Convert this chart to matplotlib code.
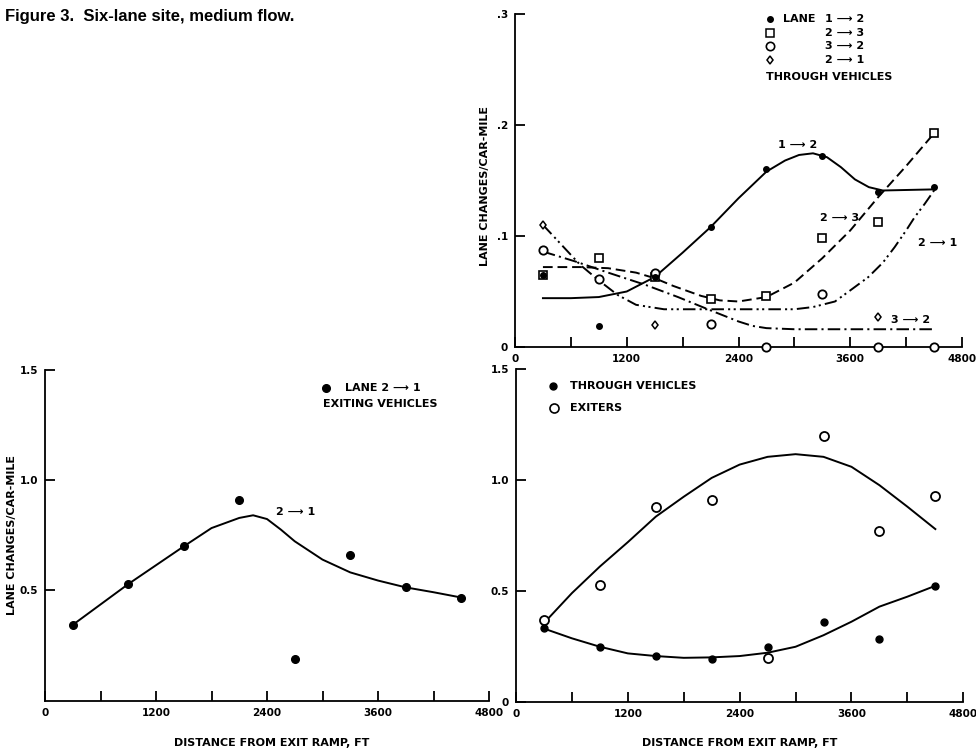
import numpy as np
import matplotlib
matplotlib.use('Agg')
import matplotlib.pyplot as plt

plt.rcParams['font.family'] = ['Liberation Sans Narrow', 'DejaVu Sans']
plt.rcParams['font.weight'] = 'bold'
plt.rcParams['lines.scale_dashes'] = False

# ---- data ----
dist = [300, 900, 1500, 2100, 2700, 3300, 3900, 4500]

# top panel, through vehicles (lane changes / car-mile)
lane12 = [0.065, 0.019, 0.063, 0.108, 0.160, 0.172, 0.140, 0.144]
lane23 = [0.065, 0.080, 0.063, 0.043, 0.046, 0.098, 0.113, 0.193]
lane32_x = [300, 900, 1500, 2100, 2700, 3300, 3900, 4500]
lane32 = [0.087, 0.061, 0.067, 0.021, 0.0, 0.048, 0.0, 0.0]
lane21_x = [300, 1500, 3900]
lane21 = [0.110, 0.020, 0.027]

# hand-drawn curves (top panel)
c12_x = [300, 600, 900, 1200, 1500, 1800, 2100, 2400, 2700, 2900, 3050, 3200, 3350, 3500, 3650, 3800, 3950, 4500]
c12_y = [0.044, 0.044, 0.045, 0.050, 0.063, 0.085, 0.108, 0.134, 0.158, 0.168, 0.173, 0.1745, 0.171, 0.162, 0.151, 0.144, 0.141, 0.142]
c23_x = [300, 700, 1000, 1300, 1500, 1700, 2000, 2200, 2400, 2700, 3000, 3300, 3600, 3900, 4200, 4500]
c23_y = [0.072, 0.072, 0.071, 0.067, 0.062, 0.055, 0.046, 0.042, 0.041, 0.045, 0.058, 0.080, 0.105, 0.135, 0.163, 0.1925]
c32_x = [300, 650, 1000, 1400, 1750, 2100, 2400, 2550, 2700, 3000, 4500]
c32_y = [0.086, 0.077, 0.067, 0.056, 0.045, 0.033, 0.023, 0.019, 0.017, 0.016, 0.016]
c21_x = [300, 500, 700, 900, 1100, 1300, 1600, 2000, 2600, 3000, 3200, 3436, 3600, 3794, 3950, 4077, 4200, 4292, 4400, 4500]
c21_y = [0.110, 0.092, 0.074, 0.060, 0.047, 0.038, 0.034, 0.034, 0.034, 0.034, 0.036, 0.041, 0.051, 0.063, 0.076, 0.090, 0.105, 0.117, 0.129, 0.141]

# bottom-left panel, exiting vehicles lane 2 -> 1
exit21 = [0.344, 0.529, 0.700, 0.912, 0.189, 0.661, 0.514, 0.468]
ce21_x = [300, 900, 1500, 1800, 2100, 2250, 2400, 2550, 2700, 3000, 3300, 3600, 3900, 4200, 4500]
ce21_y = [0.344, 0.529, 0.700, 0.783, 0.829, 0.841, 0.824, 0.776, 0.723, 0.640, 0.582, 0.545, 0.514, 0.492, 0.468]

# bottom-right panel
through = [0.334, 0.248, 0.206, 0.191, 0.245, 0.358, 0.281, 0.523]
exiters = [0.368, 0.526, 0.880, 0.910, 0.198, 1.198, 0.771, 0.928]
cth_x = [300, 600, 900, 1200, 1500, 1800, 2100, 2400, 2700, 3000, 3300, 3600, 3900, 4200, 4500]
cth_y = [0.330, 0.286, 0.248, 0.218, 0.206, 0.198, 0.200, 0.206, 0.221, 0.248, 0.300, 0.361, 0.429, 0.474, 0.523]
cex_x = [300, 600, 900, 1200, 1500, 1800, 2100, 2400, 2700, 3000, 3300, 3600, 3900, 4200, 4500]
cex_y = [0.355, 0.490, 0.610, 0.720, 0.835, 0.925, 1.010, 1.070, 1.105, 1.117, 1.105, 1.060, 0.977, 0.880, 0.779]

xticks = [0, 1200, 2400, 3600, 4800]
xlabels = ['0', '1200', '2400', '3600', '4800']
YLAB = 'LANE CHANGES/CAR-MILE'
XLAB = 'DISTANCE FROM EXIT RAMP, FT'
ARROW = ' \u27f6 '

fig = plt.figure(figsize=(9.76, 7.52), dpi=100)
fig.text(0.005, 0.988, 'Figure 3.  Six-lane site, medium flow.', family=['Liberation Sans', 'DejaVu Sans'],
         fontsize=12, fontweight='bold', va='top', ha='left')


def style(ax, ymax, yticks, ylabels):
    ax.set_xlim(0, 4800)
    ax.set_ylim(0, ymax)
    for s in ['top', 'right']:
        ax.spines[s].set_visible(False)
    for s in ['left', 'bottom']:
        ax.spines[s].set_linewidth(1.3)
    ax.set_xticks(xticks)
    ax.set_xticklabels(xlabels)
    ax.set_xticks(np.arange(600, 4800, 1200), minor=True)
    ax.set_yticks(yticks)
    ax.set_yticklabels(ylabels)
    ax.tick_params(axis='both', which='both', direction='in', length=7, width=1.3, labelsize=7.5, pad=5)
    ax.tick_params(axis='y', which='minor', length=0)


lw = 1.4
# ---- top panel ----
ax1 = fig.add_axes([515 / 976, 1 - 347 / 752, 447 / 976, 333 / 752])
style(ax1, 0.3, [0, 0.1, 0.2, 0.3], ['0', '.1', '.2', '.3'])
ax1.plot(c12_x, c12_y, color='k', lw=lw)
ax1.plot(c23_x, c23_y, color='k', lw=lw, dashes=(7, 3.5))
ax1.plot(c32_x, c32_y, color='k', lw=lw, dashes=(9, 3, 1.5, 3))
ax1.plot(c21_x, c21_y, color='k', lw=lw, dashes=(9, 3, 1.5, 2.5, 1.5, 3))
ax1.plot(dist, lane23, ls='none', marker='s', ms=5.5, mfc='white', mec='k', mew=1.2, clip_on=False, zorder=3)
ax1.plot(lane32_x, lane32, ls='none', marker='o', ms=6, mfc='white', mec='k', mew=1.3, clip_on=False, zorder=3)
ax1.plot(lane21_x, lane21, ls='none', marker='d', ms=4.5, mfc='white', mec='k', mew=1.1, clip_on=False, zorder=3)
ax1.plot(dist, lane12, ls='none', marker='o', ms=4, color='k', clip_on=False, zorder=4)
fig.text(485 / 976, 1 - 186 / 752, YLAB, rotation=90, fontsize=8, ha='center', va='center')

lx, tx = 2740, 3330
rows = [0.2952, 0.2832, 0.2712, 0.2585]
ax1.plot([lx], [rows[0]], 'o', color='k', ms=4, clip_on=False)
ax1.plot([lx], [rows[1]], 's', mfc='white', mec='k', ms=5.5, mew=1.1, clip_on=False)
ax1.plot([lx], [rows[2]], 'o', mfc='white', mec='k', ms=6, mew=1.2, clip_on=False)
ax1.plot([lx], [rows[3]], 'd', mfc='white', mec='k', ms=4.5, mew=1.1, clip_on=False)
ax1.text(2880, rows[0], 'LANE', fontsize=8, va='center')
for r, lab in zip(rows, ['1' + ARROW + '2', '2' + ARROW + '3', '3' + ARROW + '2', '2' + ARROW + '1']):
    ax1.text(tx, r, lab, fontsize=8, va='center')
ax1.text(2700, 0.2435, 'THROUGH VEHICLES', fontsize=8, va='center')
ax1.text(2820, 0.182, '1' + ARROW + '2', fontsize=8, va='center')
ax1.text(3280, 0.116, '2' + ARROW + '3', fontsize=8, va='center')
ax1.text(4330, 0.094, '2' + ARROW + '1', fontsize=8, va='center')
ax1.text(4040, 0.024, '3' + ARROW + '2', fontsize=8, va='center')

# ---- bottom-left panel ----
ax2 = fig.add_axes([45 / 976, 1 - 700.7 / 752, 444 / 976, 330.7 / 752])
style(ax2, 1.5, [0.5, 1.0, 1.5], ['0.5', '1.0', '1.5'])
ax2.plot(ce21_x, ce21_y, color='k', lw=lw)
ax2.plot(dist, exit21, ls='none', marker='o', ms=5.5, color='k', zorder=3)
fig.text(12 / 976, 1 - 535 / 752, YLAB, rotation=90, fontsize=8, ha='center', va='center')
fig.text(272 / 976, 1 - 743 / 752, XLAB, fontsize=8, ha='center', va='center')
ax2.plot([3040], [1.42], 'o', color='k', ms=5.5)
ax2.text(3240, 1.42, 'LANE 2' + ARROW + '1', fontsize=8, va='center')
ax2.text(3010, 1.345, 'EXITING VEHICLES', fontsize=8, va='center')
ax2.text(2500, 0.855, '2' + ARROW + '1', fontsize=8, va='center')

# ---- bottom-right panel ----
ax3 = fig.add_axes([516 / 976, 1 - 701.7 / 752, 447.3 / 976, 332.4 / 752])
style(ax3, 1.5, [0, 0.5, 1.0, 1.5], ['0', '0.5', '1.0', '1.5'])
ax3.plot(cex_x, cex_y, color='k', lw=lw)
ax3.plot(cth_x, cth_y, color='k', lw=lw)
ax3.plot(dist, exiters, ls='none', marker='o', ms=6.5, mfc='white', mec='k', mew=1.3, zorder=3)
ax3.plot(dist, through, ls='none', marker='o', ms=5, color='k', zorder=4)
fig.text(740 / 976, 1 - 743 / 752, XLAB, fontsize=8, ha='center', va='center')
ax3.plot([400], [1.425], 'o', color='k', ms=5)
ax3.plot([410], [1.325], 'o', mfc='white', mec='k', ms=6.5, mew=1.2)
ax3.text(580, 1.425, 'THROUGH VEHICLES', fontsize=8, va='center')
ax3.text(580, 1.325, 'EXITERS', fontsize=8, va='center')

fig.savefig('out.png', dpi=100)
